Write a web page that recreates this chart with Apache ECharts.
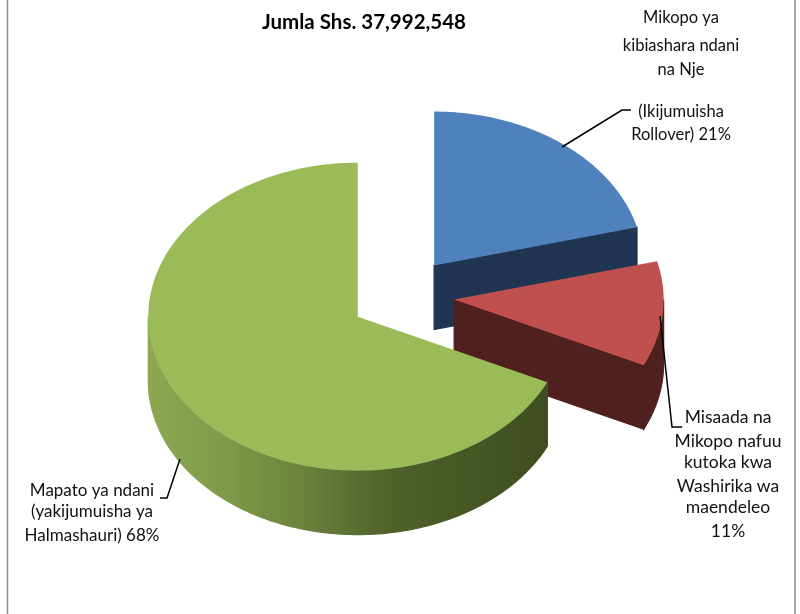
<!DOCTYPE html>
<html>
<head>
<meta charset="utf-8">
<title>Jumla Shs. 37,992,548</title>
<style>
  html, body { margin: 0; padding: 0; background: #fff; }
  #main { width: 800px; height: 614px; }
</style>
<script src="https://cdn.jsdelivr.net/npm/echarts@6/dist/echarts.min.js"></script>
</head>
<body>
<div id="main"></div>
<script>
// data
var titleText = 'Jumla Shs. 37,992,548';
var categories = ['Mikopo ya biashara', 'Misaada na Mikopo nafuu', 'Mapato ya ndani'];
var shares = [21, 11, 68];
var labelLines = [
  ['Mikopo ya', 'kibiashara ndani', 'na Nje', '(Ikijumuisha', 'Rollover) 21%'],
  ['Misaada na', 'Mikopo nafuu', 'kutoka kwa', 'Washirika wa', 'maendeleo', '11%'],
  ['Mapato ya ndani', '(yakijumuisha ya', 'Halmashauri) 68%']
];

// layout of the fake 3d pie
var cx = 402, cy = 296, rx = 209.5, ry = 154, depth = 64, explode = 0.25;
var labelX = [681, 728, 92];
var labelY = [
  [18, 46, 70, 112, 135],
  [417, 441, 462, 486, 507, 531],
  [491, 512, 536]
];
var labelSize = [16.5, 17.5, 17];
var leaders = [
  [[562, 147], [622, 110], [631, 110]],
  [[660, 316], [672, 427], [682, 427]],
  [[180, 459], [167, 498], [160, 498]]
];
var topColors = ['#4F81BD', '#C0504D', '#9BBB59'];
var wallColors = [
  '#1F3552',
  '#4F201D',
  new echarts.graphic.LinearGradient(147, 0, 545, 0, [
    { offset: 0, color: '#8CA952' },
    { offset: 0.2, color: '#7F9A49' },
    { offset: 0.4, color: '#6A803C' },
    { offset: 0.62, color: '#4F6029' },
    { offset: 1, color: '#3F4D20' }
  ], true)
];

var total = shares.reduce(function (a, b) { return a + b; }, 0);

function pt(c, t, dy) {
  return [c[0] + rx * Math.sin(t), c[1] - ry * Math.cos(t) + (dy || 0)];
}

// the strip of outer wall between two angles
function wallPoints(c, a, b) {
  var top = [], bottom = [];
  var n = Math.max(2, Math.ceil((b - a) / 0.02));
  for (var i = 0; i <= n; i++) {
    var t = a + (b - a) * i / n;
    top.push(pt(c, t));
    bottom.unshift(pt(c, t, depth));
  }
  return top.concat(bottom);
}

function renderSlice(params, api) {
  var i = params.dataIndex;
  var before = 0;
  for (var k = 0; k < i; k++) before += shares[k];
  var start = before / total * Math.PI * 2;
  var end = start + api.value(0) / total * Math.PI * 2;
  var mid = (start + end) / 2;
  var c = [cx + rx * explode * Math.sin(mid), cy - ry * explode * Math.cos(mid)];
  var children = [];
  var wallStyle = { fill: wallColors[i], stroke: wallColors[i], lineWidth: 1.2 };

  // cut face, only when it looks towards the viewer
  if (Math.sin(end) > 0.001) {
    var e = pt(c, end);
    children.push({
      type: 'polygon',
      shape: { points: [c, e, [e[0], e[1] + depth], [c[0], c[1] + depth]] },
      style: wallStyle
    });
  }
  // outer wall, front half only
  var a = Math.max(start, Math.PI / 2), b = Math.min(end, Math.PI * 1.5);
  if (b > a) {
    children.push({
      type: 'polygon',
      shape: { points: wallPoints(c, a, b) },
      style: wallStyle
    });
  }
  // top face
  var face = [c];
  var n = Math.ceil((end - start) / 0.02);
  for (var j = 0; j <= n; j++) face.push(pt(c, start + (end - start) * j / n));
  children.push({ type: 'polygon', shape: { points: face }, style: { fill: topColors[i] } });

  children.push({
    type: 'polyline',
    shape: { points: leaders[i] },
    style: { stroke: '#000', lineWidth: 1.5, fill: 'none' }
  });
  labelLines[i].forEach(function (line, l) {
    children.push({
      type: 'text',
      style: {
        x: labelX[i], y: labelY[i][l], text: line,
        fill: '#111', align: 'center', verticalAlign: 'middle',
        font: labelSize[i] + 'px Lato'
      }
    });
  });
  return { type: 'group', children: children };
}

var myChart = echarts.init(document.getElementById('main'), null, { renderer: 'canvas' });
myChart.setOption({
  animation: false,
  backgroundColor: '#fff',
  title: {
    text: titleText,
    left: 364,
    top: 12,
    textAlign: 'center',
    padding: 0,
    textStyle: { fontFamily: 'Lato', fontWeight: 'bold', fontSize: 20.5, color: '#000' }
  },
  graphic: [
    { type: 'line', shape: { x1: 7.5, y1: 0, x2: 7.5, y2: 614 }, style: { stroke: '#8a8a8a', lineWidth: 1.5 } },
    { type: 'line', shape: { x1: 795, y1: 0, x2: 795, y2: 614 }, style: { stroke: '#8a8a8a', lineWidth: 1.5 } }
  ],
  series: [{
    type: 'custom',
    coordinateSystem: 'none',
    silent: true,
    renderItem: renderSlice,
    data: shares.map(function (v, i) { return { name: categories[i], value: [v] }; })
  }]
});
</script>
</body>
</html>
